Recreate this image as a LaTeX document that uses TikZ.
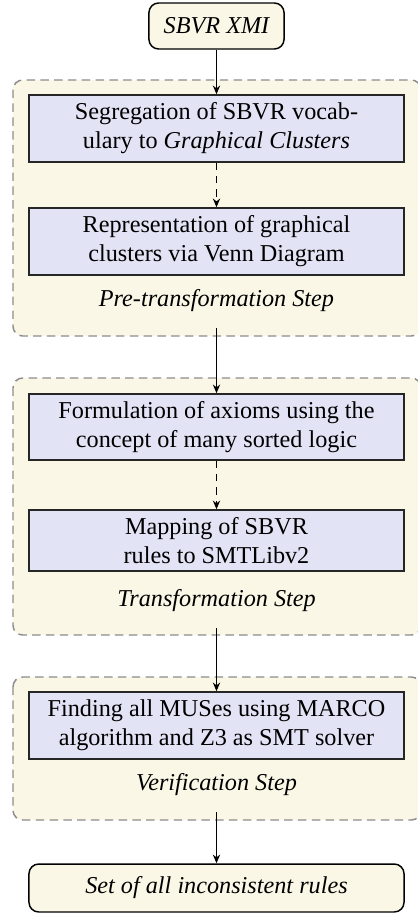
\documentclass[tikz,border=0pt]{standalone}
\usepackage{fontspec}
\setmainfont{Liberation Serif}
\usetikzlibrary{arrows.meta}
\definecolor{cream}{HTML}{FBF7E6}
\definecolor{lav}{HTML}{E3E3F6}
\definecolor{dgray}{HTML}{8C8C8C}
\tikzset{
  procbox/.style={draw=black!85, line width=0.6pt, fill=lav, minimum width=154.9pt, align=center, inner sep=2pt, font=\fontsize{10}{12}\selectfont},
  endbox/.style={draw=black, line width=0.6pt, fill=cream, rounded corners=4pt, align=center, font=\fontsize{10}{12}\selectfont\itshape},
  steplabel/.style={font=\fontsize{10}{12}\selectfont\itshape, inner sep=3pt},
  cluster/.style={draw=dgray, dashed, line width=0.6pt, fill=cream, rounded corners=4pt, dash pattern=on 3.5pt off 2.2pt},
  flow/.style={-{Stealth[length=3.6pt,width=3pt]}, line width=0.5pt},
  fromlabel/.style={flow, shorten <=3.5pt},
}
\begin{document}
\begin{tikzpicture}[x=0.413pt,y=-0.413pt]
\useasboundingbox (0,0) rectangle (417,914);
% clusters
\path[cluster] (13,80) rectangle (421,336);
\path[cluster] (13,378) rectangle (421,635);
\path[cluster] (13,677) rectangle (421,820);
% nodes
\node[endbox, minimum width=55.8pt, minimum height=19pt] (xmi) at (216.5,26) {SBVR XMI};
\node[procbox, minimum height=27.7pt] (b1) at (216.5,128.5) {Segregation of SBVR vocab-\\ulary to \textit{Graphical Clusters}};
\node[procbox, minimum height=27.7pt] (b2) at (216.5,241.5) {Representation of graphical\\clusters via Venn Diagram};
\node[steplabel] (l1) at (216.5,301) {Pre-transformation Step};
\node[procbox, minimum height=27.3pt] (b3) at (216.5,427) {Formulation of axioms using the\\concept of many sorted logic};
\node[procbox, minimum height=25.2pt] (b4) at (216.5,540.5) {Mapping of SBVR\\rules to SMTLibv2};
\node[steplabel] (l2) at (216.5,601) {Transformation Step};
\node[procbox, minimum height=27.7pt] (b5) at (216.5,725.5) {Finding all MUSes using MARCO\\algorithm and Z3 as SMT solver};
\node[steplabel] (l3) at (216.5,785) {Verification Step};
\node[endbox, minimum width=154.9pt, minimum height=19.8pt] (out) at (216.5,888) {Set of all inconsistent rules};
% connectors
\draw[flow] (xmi) -- (b1);
\draw[flow, dashed, dash pattern=on 3pt off 2.5pt] (b1) -- (b2);
\draw[fromlabel] (l1) -- (b3);
\draw[flow, dashed, dash pattern=on 3pt off 2.5pt] (b3) -- (b4);
\draw[fromlabel] (l2) -- (b5);
\draw[fromlabel] (l3) -- (out);
\end{tikzpicture}
\end{document}
